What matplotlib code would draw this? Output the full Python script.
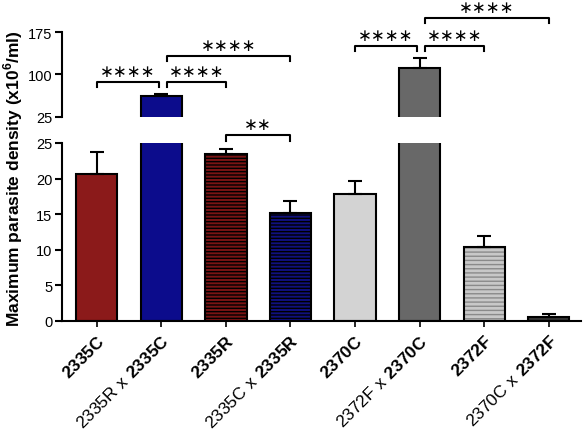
import matplotlib
matplotlib.use('Agg')
import matplotlib.pyplot as plt
import numpy as np

plt.rcParams['font.family'] = ['Liberation Sans', 'DejaVu Sans']
plt.rcParams['mathtext.fontset'] = 'custom'
plt.rcParams['mathtext.rm'] = 'Liberation Sans'
plt.rcParams['mathtext.bf'] = 'Liberation Sans:bold'
plt.rcParams['hatch.linewidth'] = 1.0

# data
labels = [r'$\mathbf{2335C}$', r'$\mathrm{2335R\ x\ }\mathbf{2335C}$',
          r'$\mathbf{2335R}$', r'$\mathrm{2335C\ x\ }\mathbf{2335R}$',
          r'$\mathbf{2370C}$', r'$\mathrm{2372F\ x\ }\mathbf{2370C}$',
          r'$\mathbf{2372F}$', r'$\mathrm{2370C\ x\ }\mathbf{2372F}$']
means = [20.6, 62.5, 23.4, 15.2, 17.9, 112, 10.35, 0.6]
errs = [3.1, 3.5, 0.8, 1.6, 1.8, 17, 1.65, 0.3]
colors = ['#8B1A1A', '#0C0C8C', '#7A1414', '#10107E', '#D3D3D3', '#686868', '#C8C8C8', '#353535']
hatches = [None, None, '-----', '-----', None, None, '----', None]
hatch_cols = [None, None, 'black', 'black', None, None, '#8A8A8A', None]

# significance brackets: (bar a, bar b, height, label)
sig_top = [(0, 1, 87, '****'), (1, 2, 87, '****'), (1, 3, 133, '****'),
           (4, 5, 150, '****'), (5, 6, 150, '****'), (5, 7, 200, '****')]
sig_low = [(2, 3, 26.1, '**')]

x = np.arange(len(means))
W = 0.64

fig = plt.figure(figsize=(5.84, 4.35), dpi=100)
ax_lo = fig.add_axes([0.106, 0.260, 0.889, 0.409])
ax_hi = fig.add_axes([0.106, 0.729, 0.889, 0.195])

for ax, lo in ((ax_lo, 0), (ax_hi, 25)):
    for i in range(len(means)):
        if means[i] <= lo:
            continue
        if hatches[i]:
            ax.bar(x[i], means[i], W, color=colors[i], edgecolor=hatch_cols[i],
                   hatch=hatches[i], linewidth=0)
            ax.bar(x[i], means[i], W, fill=False, edgecolor='black', linewidth=1.5)
        else:
            ax.bar(x[i], means[i], W, color=colors[i], edgecolor='black', linewidth=1.5)
        ax.errorbar(x[i], means[i], yerr=[[0], [errs[i]]], fmt='none', ecolor='black',
                    elinewidth=1.5, capsize=5, capthick=1.5)
    ax.set_xlim(-0.54, 7.5)
    ax.spines['top'].set_visible(False)
    ax.spines['right'].set_visible(False)
    ax.spines['left'].set_linewidth(1.5)
    ax.tick_params(axis='y', labelsize=10.5, width=1.5, length=5, pad=2)

ax_lo.set_ylim(0, 25)
ax_lo.set_yticks([0, 5, 10, 15, 20, 25])
ax_lo.spines['bottom'].set_linewidth(1.5)
ax_lo.set_xticks(x)
ax_lo.set_xticklabels(labels, rotation=45, ha='right', rotation_mode='anchor', fontsize=12.5)
ax_lo.tick_params(axis='x', width=1.2, length=4, pad=4)

ax_hi.set_ylim(25, 175)
ax_hi.set_yticks([25, 100, 175])
ax_hi.spines['bottom'].set_visible(False)
ax_hi.set_xticks([])


def bracket(ax, a, b, h, drop, txt):
    xa = x[a] + (0.08 if a in (1, 5) else 0)
    xb = x[b] - (0.04 if b in (1, 5) else 0)
    ax.plot([xa, xa, xb, xb], [h - drop, h, h, h - drop], color='black', lw=1.5,
            clip_on=False)
    ax.annotate(txt.replace('*', '\u2217'), ((xa + xb) / 2, h), xytext=(0, 8),
                textcoords='offset points', ha='center', va='center',
                fontsize=12, family='DejaVu Sans', annotation_clip=False)


for a, b, h, t in sig_top:
    bracket(ax_hi, a, b, h, 9, t)
for a, b, h, t in sig_low:
    bracket(ax_lo, a, b, h, 0.8, t)

fig.text(0.022, 0.59, r'Maximum parasite density (x10$^{\mathbf{6}}$/ml)', rotation=90,
         ha='center', va='center', fontsize=12.5, fontweight='bold')

plt.savefig('out.png', dpi=100, facecolor='white')
